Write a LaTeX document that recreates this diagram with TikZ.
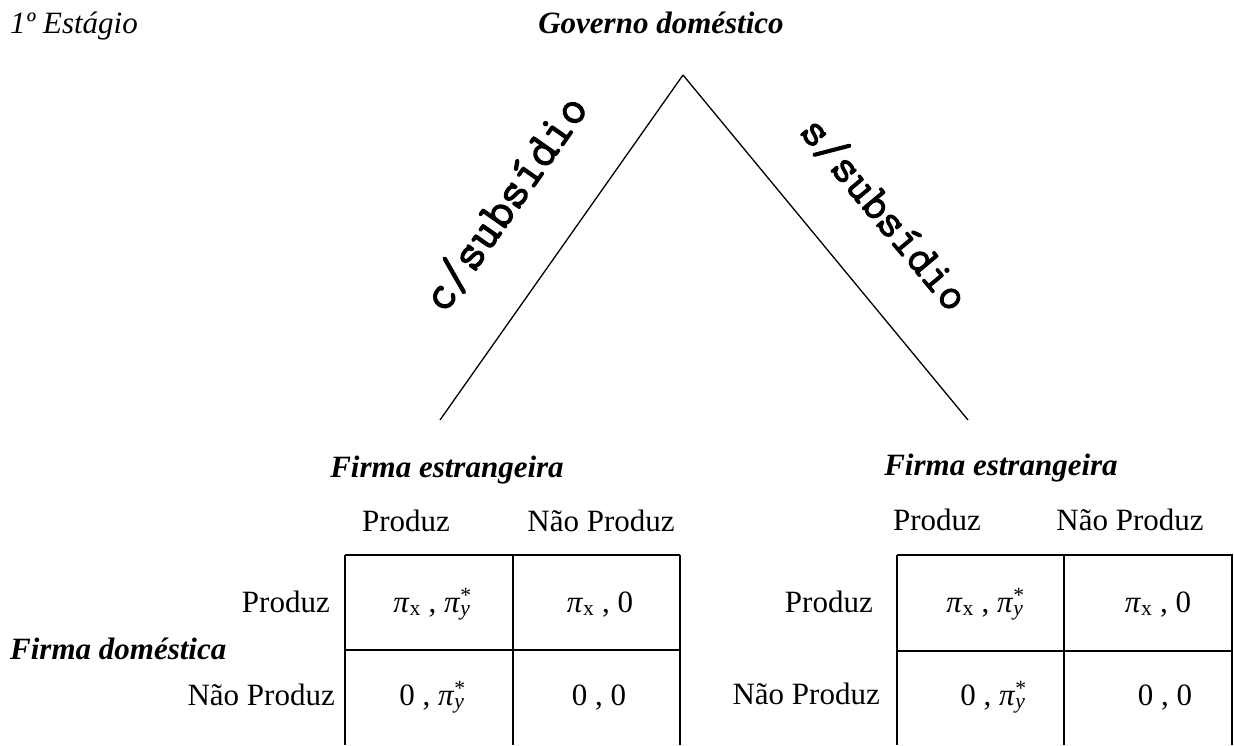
\documentclass[tikz,border=0pt]{standalone}
\usepackage{fontspec}
\setmainfont{Liberation Serif}
\newfontfamily\monofb[FakeBold=2.2]{Latin Modern Mono}
\newcommand\pix{\textit{π}\textsubscript{x}}
\newcommand\piy{\textit{π}\makebox[0pt][l]{\textsuperscript{*}}\textsubscript{\textit{y}}\hspace{0.1em}}
\tikzset{
  txt/.style={inner sep=0pt, font=\fontsize{31}{37}\selectfont},
  bi/.style={txt, font=\fontsize{31}{37}\selectfont\bfseries\itshape},
  mono/.style={inner sep=0pt, font=\fontsize{49}{55}\selectfont\monofb},
  branch/.style={line width=1.3pt},
  grid/.style={line width=2.2pt},
}
\begin{document}
\begin{tikzpicture}[x=1pt,y=-1pt]
\useasboundingbox (0,0) rectangle (1234,745);
% titles
\node[txt, anchor=base west] (stage) at (10,33) {\itshape 1º Estágio};
\node[bi, anchor=base] (gov) at (661,33) {Governo doméstico};
% tree
\coordinate (apex) at (683,75);
\coordinate (lend) at (440,420);
\coordinate (rend) at (968,420);
\draw[branch] (apex) -- (lend);
\draw[branch] (apex) -- (rend);
\node[mono, rotate=55] (lab1) at (505,203) {c/subsídio};
\node[mono, rotate=-50.2, font=\fontsize{46}{52}\selectfont\monofb] (lab2) at (885,214) {s/subsídio};
% player labels
\node[bi, anchor=base] (fe1) at (447,477) {Firma estrangeira};
\node[bi, anchor=base] (fe2) at (1001,475) {Firma estrangeira};
\node[bi, anchor=base west] (fd) at (10,659) {Firma doméstica};
% headers
\node[txt, anchor=base] (h1a) at (406,531) {Produz};
\node[txt, anchor=base] (h1b) at (601,531) {Não Produz};
\node[txt, anchor=base] (h2a) at (937,530) {Produz};
\node[txt, anchor=base] (h2b) at (1130,530) {Não Produz};
% row labels
\node[txt, anchor=base east] (r1a) at (330,612) {Produz};
\node[txt, anchor=base east] (r1b) at (335,705) {Não Produz};
\node[txt, anchor=base east] (r2a) at (873,612) {Produz};
\node[txt, anchor=base east] (r2b) at (880,704) {Não Produz};
% left table
\draw[grid] (345,555) -- (680,555);
\draw[grid] (345,650) -- (680,650);
\draw[grid] (345,555) -- (345,745);
\draw[grid] (513,555) -- (513,745);
\draw[grid] (680,555) -- (680,745);
\node[txt, anchor=base] (c11) at (432,612) {\pix\ , \piy};
\node[txt, anchor=base] (c12) at (600,612) {\pix\ , 0};
\node[txt, anchor=base] (c21) at (432,705) {0 , \piy};
\node[txt, anchor=base] (c22) at (599,705) {0 , 0};
% right table
\draw[grid] (897,555) -- (1233,555);
\draw[grid] (897,651) -- (1233,651);
\draw[grid] (897,555) -- (897,745);
\draw[grid] (1064,555) -- (1064,745);
\draw[grid] (1232,555) -- (1232,745);
\node[txt, anchor=base] (d11) at (985,612) {\pix\ , \piy};
\node[txt, anchor=base] (d12) at (1158,612) {\pix\ , 0};
\node[txt, anchor=base] (d21) at (993,705) {0 , \piy};
\node[txt, anchor=base] (d22) at (1165,705) {0 , 0};
\end{tikzpicture}
\end{document}
